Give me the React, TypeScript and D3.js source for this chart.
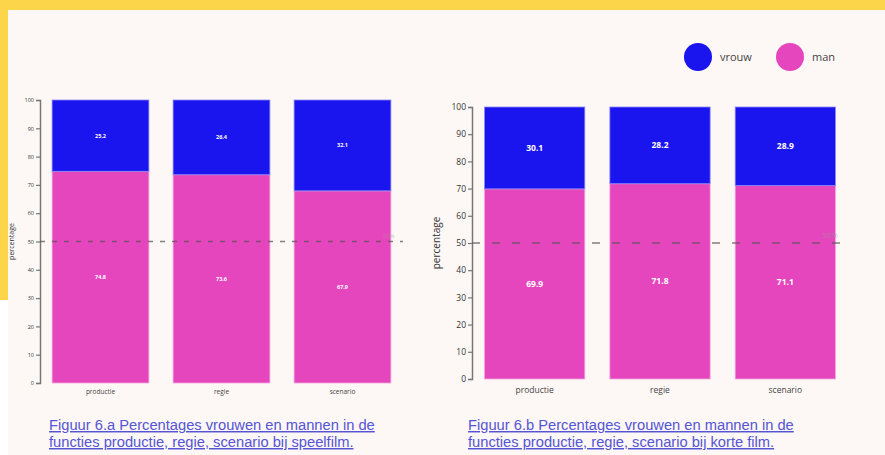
import React, { useEffect, useRef } from "react";
import * as d3 from "d3";

const categories = ["productie", "regie", "scenario"];
const vrouwA = [25.2, 26.4, 32.1];
const manA = [74.8, 73.6, 67.9];
const vrouwB = [30.1, 28.2, 28.9];
const manB = [69.9, 71.8, 71.1];
const yTicks = [0, 10, 20, 30, 40, 50, 60, 70, 80, 90, 100];
const seriesNames = ["vrouw", "man"];
const captionA = ["Figuur 6.a Percentages vrouwen en mannen in de", "functies productie, regie, scenario bij speelfilm."];
const captionB = ["Figuur 6.b Percentages vrouwen en mannen in de", "functies productie, regie, scenario bij korte film."];

const BLUE = "#1a14ef";
const PINK = "#e646bd";
const BG = "#fdf8f6";
const YELLOW = "#fdd54b";

type Panel = {
  vrouw: number[];
  man: number[];
  x0: number; x1: number; yTop: number; yBot: number;
  tickFont: number; catFont: number; valFont: number; labelFont: number;
  labelX: number; catY: number; dash: string; pctX: number; pctY: number; pctFont: number;
};

function drawPanel(g: d3.Selection<SVGGElement, unknown, null, undefined>, p: Panel) {
  const x = d3.scaleBand<string>().domain(categories).range([p.x0, p.x1]).paddingInner(0.2).paddingOuter(0.1);
  const y = d3.scaleLinear().domain([0, 100]).range([p.yBot, p.yTop]);

  categories.forEach((c, i) => {
    const bx = x(c)!;
    const bw = x.bandwidth();
    g.append("rect").attr("x", bx).attr("y", y(p.man[i])).attr("width", bw)
      .attr("height", y(0) - y(p.man[i])).attr("fill", PINK)
      .attr("stroke", "#f4a6dd").attr("stroke-width", 0.8);
    g.append("rect").attr("x", bx).attr("y", y(p.man[i] + p.vrouw[i])).attr("width", bw)
      .attr("height", y(p.man[i]) - y(p.man[i] + p.vrouw[i])).attr("fill", BLUE)
      .attr("stroke", "#8a86f6").attr("stroke-width", 0.8);
    g.append("text").attr("x", bx + bw / 2).attr("y", y(p.man[i] / 2)).attr("dy", "0.35em")
      .attr("text-anchor", "middle").attr("fill", "#fff").attr("font-weight", "bold")
      .attr("font-size", p.valFont).attr("font-family", "Open Sans, sans-serif").text(p.man[i].toFixed(1));
    g.append("text").attr("x", bx + bw / 2).attr("y", y(p.man[i] + p.vrouw[i] / 2)).attr("dy", "0.35em")
      .attr("text-anchor", "middle").attr("fill", "#fff").attr("font-weight", "bold")
      .attr("font-size", p.valFont).attr("font-family", "Open Sans, sans-serif").text(p.vrouw[i].toFixed(1));
    g.append("text").attr("x", bx + bw / 2).attr("y", p.catY)
      .attr("text-anchor", "middle").attr("fill", "#444")
      .attr("font-size", p.catFont).attr("font-family", "Open Sans, sans-serif").text(c);
  });

  const axis = d3.axisLeft(y).tickValues(yTicks).tickSize(4).tickPadding(2);
  const ag = g.append("g").attr("transform", `translate(${p.x0},0)`).call(axis);
  ag.select(".domain").attr("stroke", "#777").attr("stroke-width", 1.5);
  ag.selectAll(".tick line").attr("stroke", "#777").attr("stroke-width", 1.2);
  ag.selectAll(".tick text").attr("fill", "#333").attr("font-size", p.tickFont).attr("font-family", "Open Sans, sans-serif");

  g.append("text").attr("transform", `translate(${p.labelX},${(p.yTop + p.yBot) / 2}) rotate(-90)`)
    .attr("text-anchor", "middle").attr("fill", "#333").attr("font-size", p.labelFont)
    .attr("font-family", "Open Sans, sans-serif").text("percentage");

  g.append("line").attr("x1", p.x0).attr("x2", p.x1).attr("y1", y(50)).attr("y2", y(50))
    .attr("stroke", "#555").attr("stroke-opacity", 0.75).attr("stroke-width", 1.5).attr("stroke-dasharray", p.dash);
  g.append("text").attr("x", p.pctX).attr("y", p.pctY).attr("fill", "#999").attr("fill-opacity", 0.6)
    .attr("font-size", p.pctFont).attr("font-family", "Open Sans, sans-serif").text("50%");
}

export default function App() {
  const ref = useRef<SVGSVGElement>(null);
  useEffect(() => {
    const svg = d3.select(ref.current!);
    svg.selectAll("*").remove();
    svg.append("rect").attr("width", 885).attr("height", 455).attr("fill", BG);
    svg.append("rect").attr("x", 0).attr("y", 300).attr("width", 8).attr("height", 155).attr("fill", "#fff");
    svg.append("rect").attr("x", 0).attr("y", 0).attr("width", 885).attr("height", 10).attr("fill", YELLOW);
    svg.append("rect").attr("x", 0).attr("y", 0).attr("width", 8).attr("height", 300).attr("fill", YELLOW);

    const gA = svg.append("g");
    drawPanel(gA, {
      vrouw: vrouwA, man: manA, x0: 40, x1: 403, yTop: 100, yBot: 383,
      tickFont: 5.5, catFont: 6.5, valFont: 5.5, labelFont: 7, labelX: 14, catY: 394,
      dash: "5,7", pctX: 383, pctY: 238, pctFont: 6,
    });
    const gB = svg.append("g");
    drawPanel(gB, {
      vrouw: vrouwB, man: manB, x0: 472, x1: 848, yTop: 107, yBot: 379,
      tickFont: 8.5, catFont: 8.5, valFont: 8.5, labelFont: 10, labelX: 440, catY: 393,
      dash: "8,12", pctX: 822, pctY: 238, pctFont: 8,
    });

    const colors = [BLUE, PINK];
    const lx = [698, 790];
    seriesNames.forEach((s, i) => {
      svg.append("circle").attr("cx", lx[i]).attr("cy", 57).attr("r", 14).attr("fill", colors[i]);
      svg.append("text").attr("x", lx[i] + 22).attr("y", 57).attr("dy", "0.35em").attr("fill", "#444")
        .attr("font-size", 11).attr("font-family", "Open Sans, sans-serif").text(s);
    });

    const caps: [string[], number][] = [[captionA, 49], [captionB, 468]];
    caps.forEach(([lines, cx]) => {
      lines.forEach((l, j) => {
        svg.append("text").attr("x", cx).attr("y", 430 + j * 17).attr("fill", "#5454d4")
          .attr("font-size", 14.7).attr("font-family", "Liberation Sans, Arial, sans-serif")
          .attr("text-decoration", "underline").text(l);
      });
    });
  }, []);
  return <svg ref={ref} width={885} height={455} style={{ display: "block", position: "absolute", left: 0, top: 0 }} />;
}
